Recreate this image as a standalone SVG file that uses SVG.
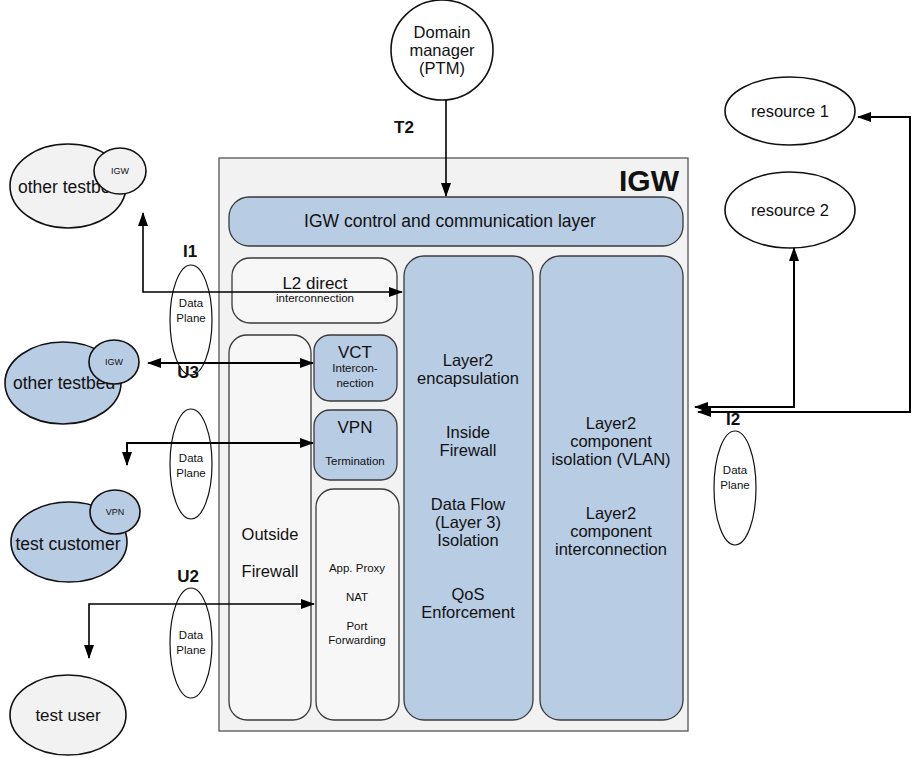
<svg xmlns="http://www.w3.org/2000/svg" width="913" height="758" viewBox="0 0 913 758">
<style>
text{font-family:"Liberation Sans",Arial,sans-serif;fill:#111;text-anchor:middle}
.b{fill:#b8cce4;stroke:#3a3a3a;stroke-width:1.3}
.g{fill:#f2f2f2;stroke:#111;stroke-width:1.6}
.w{fill:#f7f7f7;stroke:#3a3a3a;stroke-width:1.3}
.e{fill:#fff;stroke:#111;stroke-width:1.2}
.n{fill:#fff;stroke:#111;stroke-width:1.6}
.c{fill:none;stroke:#000;stroke-width:1.6}
.c2{fill:none;stroke:#000;stroke-width:2}
.lb{font-weight:bold;font-size:17px}
.dp{font-size:11.5px}
.m{font-size:16.5px}
</style>
<defs>
<marker id="a" viewBox="0 0 14 10" refX="13" refY="5" markerWidth="14" markerHeight="10" markerUnits="userSpaceOnUse" orient="auto-start-reverse">
<path d="M0,0L14,5L0,10z" fill="#000"/>
</marker>
</defs>

<g id="igw">
<rect x="219" y="158" width="469" height="573" fill="#f2f2f2" stroke="#555" stroke-width="1.3"/>
<text x="679" y="191" style="font-weight:bold;font-size:30px;text-anchor:end">IGW</text>
</g>
<g id="control">
<rect class="b" x="229" y="197" width="454" height="49" rx="20"/>
<text x="450" y="227" style="font-size:17.5px">IGW control and communication layer</text>
</g>
<g id="l2direct">
<rect class="w" x="232" y="258" width="165" height="65" rx="18"/>
<text x="315" y="289" style="font-size:17px">L2 direct</text>
<text x="315" y="302" style="font-size:11.5px">interconnection</text>
</g>
<g id="outside">
<rect class="w" x="229" y="335" width="82" height="385" rx="18"/>
<text x="270" y="540" class="m">Outside</text>
<text x="270" y="577" class="m">Firewall</text>
</g>
<g id="vct">
<rect class="b" x="314" y="335" width="83" height="66" rx="16"/>
<text x="355" y="358" style="font-size:17px">VCT</text>
<text x="355" y="372" style="font-size:11.5px">Intercon-</text>
<text x="355" y="387" style="font-size:11.5px">nection</text>
</g>
<g id="vpn">
<rect class="b" x="314" y="410" width="83" height="70" rx="16"/>
<text x="355" y="433" style="font-size:17px">VPN</text>
<text x="355" y="465" style="font-size:11.5px">Termination</text>
</g>
<g id="proxy">
<rect class="w" x="316" y="489" width="83" height="231" rx="18"/>
<text x="357" y="572" style="font-size:11.5px">App. Proxy</text>
<text x="357" y="601" style="font-size:11.5px">NAT</text>
<text x="357" y="630" style="font-size:11.5px">Port</text>
<text x="357" y="644" style="font-size:11.5px">Forwarding</text>
</g>
<g id="layer2">
<rect class="b" x="404" y="256" width="129" height="464" rx="20"/>
<text x="468" y="366" class="m">Layer2</text>
<text x="468" y="384" class="m">encapsulation</text>
<text x="468" y="438" class="m">Inside</text>
<text x="468" y="456" class="m">Firewall</text>
<text x="468" y="510" class="m">Data Flow</text>
<text x="468" y="528" class="m">(Layer 3)</text>
<text x="468" y="546" class="m">Isolation</text>
<text x="468" y="600" class="m">QoS</text>
<text x="468" y="618" class="m">Enforcement</text>
</g>
<g id="vlan">
<rect class="b" x="540" y="256" width="143" height="464" rx="20"/>
<text x="611" y="429" class="m">Layer2</text>
<text x="611" y="447" class="m">component</text>
<text x="611" y="465" class="m">isolation (VLAN)</text>
<text x="611" y="519" class="m">Layer2</text>
<text x="611" y="537" class="m">component</text>
<text x="611" y="555" class="m">interconnection</text>
</g>

<g id="domain">
<ellipse class="n" cx="442" cy="50" rx="51" ry="50"/>
<text x="442" y="38" class="m">Domain</text>
<text x="442" y="56" class="m">manager</text>
<text x="442" y="74" class="m">(PTM)</text>
</g>
<g id="res1">
<ellipse class="n" cx="790" cy="111" rx="65" ry="34"/>
<text x="790" y="117" class="m">resource 1</text>
</g>
<g id="res2">
<ellipse class="n" cx="790" cy="210" rx="65" ry="38"/>
<text x="790" y="216" class="m">resource 2</text>
</g>
<g id="tb1">
<ellipse class="g" cx="68" cy="186" rx="58" ry="42"/>
<text x="18" y="193" style="font-size:17.5px;text-anchor:start">other testbed</text>
<ellipse class="g" cx="120" cy="171" rx="26" ry="23"/>
<text x="120" y="174" style="font-size:9px">IGW</text>
</g>
<g id="tb2">
<ellipse class="b" style="stroke:#111;stroke-width:1.6" cx="63" cy="383" rx="58" ry="41"/>
<text x="13" y="389" style="font-size:17.5px;text-anchor:start">other testbed</text>
<ellipse class="b" style="stroke:#111;stroke-width:1.6" cx="114" cy="362" rx="25" ry="22"/>
<text x="114" y="365" style="font-size:9px">IGW</text>
</g>
<g id="customer">
<ellipse class="b" style="stroke:#111;stroke-width:1.6" cx="69" cy="542" rx="58" ry="40"/>
<text x="68" y="550" style="font-size:17.5px">test customer</text>
<ellipse class="b" style="stroke:#111;stroke-width:1.6" cx="115" cy="512" rx="25" ry="22"/>
<text x="115" y="515" style="font-size:9px">VPN</text>
</g>
<g id="user">
<ellipse class="g" cx="68" cy="715" rx="58" ry="40"/>
<text x="68" y="721" style="font-size:17px">test user</text>
</g>

<g id="dp-i1">
<ellipse class="e" cx="191" cy="320" rx="21" ry="55"/>
<text x="191" y="307" class="dp">Data</text>
<text x="191" y="322" class="dp">Plane</text>
</g>
<g id="dp-u3">
<ellipse class="e" cx="191" cy="464" rx="21" ry="55"/>
<text x="191" y="462" class="dp">Data</text>
<text x="191" y="477" class="dp">Plane</text>
</g>
<g id="dp-u2">
<ellipse class="e" cx="191" cy="643" rx="21" ry="55"/>
<text x="191" y="639" class="dp">Data</text>
<text x="191" y="654" class="dp">Plane</text>
</g>
<g id="dp-i2">
<ellipse class="e" cx="735" cy="488" rx="21" ry="57"/>
<text x="735" y="474" class="dp">Data</text>
<text x="735" y="489" class="dp">Plane</text>
</g>

<g id="labels">
<text x="190" y="257" class="lb">I1</text>
<text x="188" y="378" class="lb">U3</text>
<text x="188" y="582" class="lb">U2</text>
<text x="733" y="425" class="lb">I2</text>
<text x="404" y="133" class="lb">T2</text>
</g>

<g id="connectors">
<path class="c" d="M446,100V196" marker-end="url(#a)"/>
<path class="c" d="M143,213V292H402" marker-start="url(#a)" marker-end="url(#a)"/>
<path class="c2" d="M148,363H313" marker-start="url(#a)" marker-end="url(#a)"/>
<path class="c2" d="M127,465V443H313" marker-start="url(#a)" marker-end="url(#a)"/>
<path class="c" d="M89,658V604H314" marker-start="url(#a)" marker-end="url(#a)"/>
<path class="c2" d="M794,248V407H695" marker-start="url(#a)" marker-end="url(#a)"/>
<path class="c2" d="M858,117H910V412H698" marker-start="url(#a)" marker-end="url(#a)"/>
</g>
</svg>
